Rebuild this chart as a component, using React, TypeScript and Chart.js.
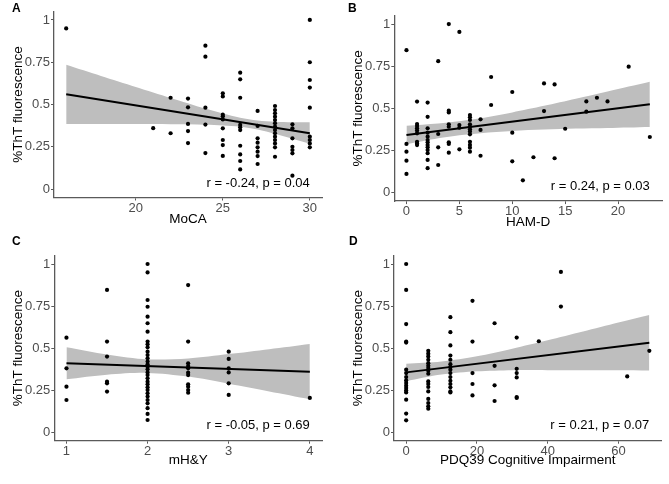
import React, { useEffect, useRef } from 'react';
import { Chart, registerables } from 'chart.js';

Chart.register(...registerables);

// ---------- shared axis ----------
const yTickValues = [0, 0.25, 0.5, 0.75, 1];
const yTickLabels = ['0', '0.25', '0.5', '0.75', '1'];
const yTitle = '%ThT fluorescence';

// ---------- Panel A: MoCA ----------
const mocaX = [
  16,
  21,
  22, 22,
  23, 23, 23, 23, 23,
  24, 24, 24, 24, 24,
  25, 25, 25, 25, 25, 25, 25, 25, 25,
  26, 26, 26, 26, 26, 26, 26, 26, 26, 26,
  27, 27, 27, 27, 27, 27, 27, 27,
  28, 28, 28, 28, 28, 28, 28, 28, 28, 28, 28, 28, 28, 28,
  29, 29, 29, 29, 29, 29, 29,
  30, 30, 30, 30, 30, 30, 30, 30, 30,
];
const mocaY = [
  0.95,
  0.36,
  0.54, 0.33,
  0.535, 0.483, 0.385, 0.343, 0.272,
  0.848, 0.783, 0.481, 0.381, 0.213,
  0.566, 0.548, 0.44, 0.412, 0.359, 0.29, 0.26, 0.196, 0.43,
  0.688, 0.649, 0.54, 0.379, 0.365, 0.349, 0.256, 0.205, 0.166, 0.116,
  0.462, 0.373, 0.3, 0.274, 0.247, 0.221, 0.195, 0.148,
  0.491, 0.467, 0.448, 0.428, 0.408, 0.389, 0.369, 0.349, 0.33, 0.31, 0.29, 0.27, 0.247, 0.191,
  0.383, 0.359, 0.3, 0.25, 0.231, 0.211, 0.079,
  1.0, 0.75, 0.645, 0.6, 0.481, 0.31, 0.29, 0.27, 0.247,
];
const mocaTicks = [20, 25, 30];
const mocaFitX = [16, 30];
const mocaFitY = [0.56, 0.33];
const mocaBandX = [16, 18, 20, 22, 24, 25, 26, 27, 28, 29, 30];
const mocaBandLo = [0.385, 0.385, 0.384, 0.383, 0.38, 0.376, 0.369, 0.352, 0.327, 0.298, 0.268];
const mocaBandHi = [0.735, 0.669, 0.604, 0.539, 0.476, 0.447, 0.422, 0.405, 0.398, 0.395, 0.395];

// ---------- Panel B: HAM-D ----------
const hamdX = [
  0, 0, 0, 0, 0,
  1, 1, 1, 1, 1, 1, 1, 1, 1,
  2, 2, 2, 2, 2, 2, 2, 2, 2, 2, 2, 2, 2,
  3, 3, 3, 3,
  4, 4, 4, 4, 4, 4, 4, 4,
  5, 5, 5, 5,
  6, 6, 6, 6, 6, 6, 6, 6, 6, 6, 6, 6,
  7, 7, 7,
  8, 8,
  10, 10, 10,
  11, 12,
  13, 13,
  14, 14,
  15,
  17, 17,
  18, 19, 21, 23,
];
const hamdY = [
  0.845, 0.289, 0.243, 0.19, 0.111,
  0.54, 0.407, 0.395, 0.382, 0.368, 0.352, 0.302, 0.292, 0.282,
  0.534, 0.45, 0.382, 0.356, 0.332, 0.312, 0.299, 0.283, 0.269, 0.253, 0.234, 0.194, 0.145,
  0.78, 0.348, 0.269, 0.164,
  1.0, 0.486, 0.476, 0.405, 0.391, 0.299, 0.289, 0.237,
  0.953, 0.401, 0.385, 0.257,
  0.46, 0.447, 0.431, 0.405, 0.391, 0.376, 0.362, 0.346, 0.302, 0.283, 0.267, 0.243,
  0.435, 0.372, 0.219,
  0.686, 0.52,
  0.597, 0.356, 0.186,
  0.073, 0.21,
  0.648, 0.484,
  0.642, 0.204,
  0.379,
  0.541, 0.48,
  0.563, 0.541, 0.747, 0.33,
];
const hamdTicks = [0, 5, 10, 15, 20];
const hamdFitX = [0, 23];
const hamdFitY = [0.342, 0.524];
const hamdBandX = [0, 3, 5, 7, 10, 13, 16, 19, 21, 23];
const hamdBandLo = [0.287, 0.322, 0.34, 0.353, 0.366, 0.374, 0.38, 0.384, 0.387, 0.39];
const hamdBandHi = [0.397, 0.41, 0.424, 0.441, 0.476, 0.515, 0.557, 0.6, 0.629, 0.658];

// ---------- Panel C: mH&Y ----------
const hyX = [
  1, 1, 1, 1,
  1.5, 1.5, 1.5, 1.5, 1.5, 1.5,
  2, 2, 2, 2, 2, 2, 2, 2, 2, 2, 2, 2, 2, 2, 2, 2, 2, 2, 2, 2, 2, 2, 2, 2, 2, 2, 2, 2, 2, 2, 2,
  2.5, 2.5, 2.5, 2.5, 2.5, 2.5, 2.5, 2.5, 2.5, 2.5, 2.5,
  3, 3, 3, 3, 3, 3,
  4,
];
const hyY = [
  0.562, 0.38, 0.271, 0.192,
  0.846, 0.539, 0.45, 0.301, 0.291, 0.242,
  1.0, 0.95, 0.786, 0.746, 0.687, 0.648, 0.598, 0.539, 0.523, 0.505, 0.479, 0.459, 0.44, 0.42, 0.404,
  0.39, 0.374, 0.356, 0.34, 0.321, 0.301, 0.285, 0.267, 0.251, 0.232, 0.212, 0.192, 0.172, 0.143, 0.109, 0.073,
  0.875, 0.539, 0.41, 0.394, 0.38, 0.354, 0.34, 0.285, 0.271, 0.251, 0.235,
  0.479, 0.436, 0.38, 0.356, 0.291, 0.222,
  0.204,
];
const hyTicks = [1, 2, 3, 4];
const hyFitX = [1, 4];
const hyFitY = [0.41, 0.36];
const hyBandX = [1, 1.5, 2, 2.5, 3, 3.5, 4];
const hyBandLo = [0.315, 0.342, 0.353, 0.331, 0.289, 0.243, 0.197];
const hyBandHi = [0.505, 0.462, 0.433, 0.439, 0.465, 0.494, 0.525];

// ---------- Panel D: PDQ39 Cognitive Impairment ----------
const pdqX = [
  0, 0, 0, 0, 0, 0, 0, 0, 0, 0, 0, 0, 0, 0, 0, 0, 0,
  6.25, 6.25, 6.25, 6.25, 6.25, 6.25, 6.25, 6.25, 6.25, 6.25, 6.25, 6.25, 6.25, 6.25, 6.25, 6.25, 6.25,
  12.5, 12.5, 12.5, 12.5, 12.5, 12.5, 12.5, 12.5, 12.5, 12.5, 12.5, 12.5, 12.5, 12.5, 12.5,
  18.75, 18.75, 18.75, 18.75, 18.75,
  25, 25, 25, 25,
  31.25, 31.25, 31.25, 31.25, 31.25, 31.25,
  37.5,
  43.75, 43.75,
  62.5, 68.75,
];
const pdqY = [
  1.0, 0.846, 0.643, 0.539, 0.533, 0.372, 0.352, 0.328, 0.308, 0.293, 0.277, 0.263, 0.249, 0.237, 0.194, 0.111, 0.071,
  0.484, 0.467, 0.451, 0.431, 0.411, 0.395, 0.382, 0.366, 0.348, 0.302, 0.287, 0.269, 0.243, 0.198, 0.174, 0.154, 0.14,
  0.684, 0.595, 0.516, 0.456, 0.431, 0.405, 0.388, 0.372, 0.352, 0.328, 0.306, 0.287, 0.267, 0.243, 0.237,
  0.781, 0.539, 0.352, 0.287, 0.219,
  0.648, 0.395, 0.279, 0.186,
  0.563, 0.377, 0.352, 0.326, 0.209, 0.204,
  0.541,
  0.953, 0.747,
  0.332, 0.484,
];
const pdqTicks = [0, 20, 40, 60];
const pdqFitX = [0, 68.75];
const pdqFitY = [0.356, 0.532];
const pdqBandX = [0, 10, 20, 30, 40, 50, 60, 68.75];
const pdqBandLo = [0.304, 0.343, 0.362, 0.369, 0.369, 0.369, 0.368, 0.367];
const pdqBandHi = [0.408, 0.421, 0.452, 0.497, 0.547, 0.599, 0.652, 0.697];

// ---------- layout / styles ----------
const FONT = "'Liberation Sans', Arial, sans-serif";
const BAND = '#bebebe';
const AXIS = '#5a5a5a';
const TICKTXT = '#4d4d4d';

type PanelCfg = {
  tag: string;
  xTitle: string;
  xs: number[];
  ys: number[];
  xTicks: number[];
  xMin: number;
  xMax: number;
  fitX: number[];
  fitY: number[];
  bandX: number[];
  bandLo: number[];
  bandHi: number[];
  stat: string;
  statX: number;
  statY: number;
  box: { left: number; top: number; width: number; height: number };
  lay: { padTop: number; padRight: number; axisW: number; axisH: number; xTitlePad: number; yTitlePad: number };
  tagPos: { left: number; top: number };
};

const panels: PanelCfg[] = [
  {
    tag: 'A', xTitle: 'MoCA', xs: mocaX, ys: mocaY, xTicks: mocaTicks, xMin: 15.3, xMax: 30.7,
    fitX: mocaFitX, fitY: mocaFitY, bandX: mocaBandX, bandLo: mocaBandLo, bandHi: mocaBandHi,
    stat: 'r = -0.24, p = 0.04', statX: 30, statY: 0.036,
    box: { left: 0, top: 0, width: 334, height: 242 },
    lay: { padTop: 11.5, padRight: 12, axisW: 54, axisH: 44.5, xTitlePad: 14.8, yTitlePad: 10 },
    tagPos: { left: 12, top: 1 },
  },
  {
    tag: 'B', xTitle: 'HAM-D', xs: hamdX, ys: hamdY, xTicks: hamdTicks, xMin: -1.15, xMax: 24.15,
    fitX: hamdFitX, fitY: hamdFitY, bandX: hamdBandX, bandLo: hamdBandLo, bandHi: hamdBandHi,
    stat: 'r = 0.24, p = 0.03', statX: 23, statY: 0.04,
    box: { left: 340, top: 0, width: 329, height: 242 },
    lay: { padTop: 15.6, padRight: 7, axisW: 54.3, axisH: 40.9, xTitlePad: 12, yTitlePad: 10.3 },
    tagPos: { left: 348, top: 1 },
  },
  {
    tag: 'C', xTitle: 'mH&Y', xs: hyX, ys: hyY, xTicks: hyTicks, xMin: 0.85, xMax: 4.15,
    fitX: hyFitX, fitY: hyFitY, bandX: hyBandX, bandLo: hyBandLo, bandHi: hyBandHi,
    stat: 'r = -0.05, p = 0.69', statX: 4, statY: 0.043,
    box: { left: 0, top: 242, width: 334, height: 242 },
    lay: { padTop: 13.6, padRight: 12, axisW: 54.3, axisH: 43.3, xTitlePad: 15.8, yTitlePad: 10.3 },
    tagPos: { left: 12, top: 234 },
  },
  {
    tag: 'D', xTitle: 'PDQ39 Cognitive Impairment', xs: pdqX, ys: pdqY, xTicks: pdqTicks, xMin: -3.44, xMax: 72.19,
    fitX: pdqFitX, fitY: pdqFitY, bandX: pdqBandX, bandLo: pdqBandLo, bandHi: pdqBandHi,
    stat: 'r = 0.21, p = 0.07', statX: 68.75, statY: 0.04,
    box: { left: 340, top: 242, width: 329, height: 242 },
    lay: { padTop: 13.6, padRight: 7.5, axisW: 54, axisH: 43.3, xTitlePad: 15.8, yTitlePad: 10.3 },
    tagPos: { left: 349, top: 234 },
  },
];

const statPlugin = {
  id: 'statText',
  afterDatasetsDraw(chart: any, _args: any, opts: any) {
    const { ctx, scales } = chart;
    ctx.save();
    ctx.font = `13px ${FONT}`;
    ctx.fillStyle = '#000';
    ctx.textAlign = 'right';
    ctx.textBaseline = 'middle';
    ctx.fillText(opts.text, scales.x.getPixelForValue(opts.x), scales.y.getPixelForValue(opts.y));
    ctx.restore();
  },
};

function Panel({ cfg }: { cfg: PanelCfg }) {
  const ref = useRef<HTMLCanvasElement>(null);
  useEffect(() => {
    const L = cfg.lay;
    const chart = new Chart(ref.current as HTMLCanvasElement, {
      type: 'scatter',
      data: {
        datasets: [
          {
            type: 'line',
            data: cfg.bandX.map((x, i) => ({ x, y: cfg.bandHi[i] })),
            fill: '+1',
            backgroundColor: BAND,
            borderColor: 'transparent',
            borderWidth: 0,
            pointRadius: 0,
            tension: 0.3,
            order: 3,
          } as any,
          {
            type: 'line',
            data: cfg.bandX.map((x, i) => ({ x, y: cfg.bandLo[i] })),
            fill: false,
            borderColor: 'transparent',
            borderWidth: 0,
            pointRadius: 0,
            tension: 0.3,
            order: 4,
          } as any,
          {
            type: 'line',
            data: cfg.fitX.map((x, i) => ({ x, y: cfg.fitY[i] })),
            fill: false,
            borderColor: '#000',
            borderWidth: 2,
            pointRadius: 0,
            order: 2,
          } as any,
          {
            type: 'scatter',
            data: cfg.xs.map((x, i) => ({ x, y: cfg.ys[i] })),
            backgroundColor: '#000',
            borderColor: '#000',
            borderWidth: 0,
            pointRadius: 2.1,
            order: 1,
          } as any,
        ],
      },
      options: {
        animation: false,
        responsive: false,
        maintainAspectRatio: false,
        events: [],
        layout: { padding: { top: L.padTop, right: L.padRight, left: 0, bottom: 0 } },
        plugins: {
          legend: { display: false },
          tooltip: { enabled: false },
          statText: { text: cfg.stat, x: cfg.statX, y: cfg.statY },
        } as any,
        scales: {
          x: {
            type: 'linear',
            min: cfg.xMin,
            max: cfg.xMax,
            afterBuildTicks: (s: any) => {
              s.ticks = cfg.xTicks.map((v) => ({ value: v }));
            },
            afterFit: (s: any) => {
              s.height = L.axisH;
            },
            ticks: {
              autoSkip: false,
              maxRotation: 0,
              padding: 0,
              color: TICKTXT,
              font: { family: FONT, size: 13 },
              callback: (v: any) => String(v),
            },
            grid: { display: true, drawOnChartArea: false, drawTicks: true, tickLength: 3, color: AXIS, lineWidth: 1 },
            border: { display: true, color: AXIS, width: 1.3 },
            title: {
              display: true,
              text: cfg.xTitle,
              color: '#000',
              font: { family: FONT, size: 13.5 },
              padding: { top: 0, bottom: L.xTitlePad },
            },
          },
          y: {
            type: 'linear',
            min: -0.05,
            max: 1.05,
            afterBuildTicks: (s: any) => {
              s.ticks = yTickValues.map((v) => ({ value: v }));
            },
            afterFit: (s: any) => {
              s.width = L.axisW;
            },
            ticks: {
              autoSkip: false,
              padding: 1,
              color: TICKTXT,
              font: { family: FONT, size: 13 },
              callback: (v: any) => {
                const i = yTickValues.indexOf(Number(v));
                return i >= 0 ? yTickLabels[i] : '';
              },
            },
            grid: { display: true, drawOnChartArea: false, drawTicks: true, tickLength: 3, color: AXIS, lineWidth: 1 },
            border: { display: true, color: AXIS, width: 1.3 },
            title: {
              display: true,
              text: yTitle,
              color: '#000',
              font: { family: FONT, size: 13.5 },
              padding: { top: L.yTitlePad, bottom: 0 },
            },
          },
        },
      } as any,
      plugins: [statPlugin as any],
    });
    return () => chart.destroy();
  }, [cfg]);

  return (
    <canvas
      ref={ref}
      width={cfg.box.width}
      height={cfg.box.height}
      style={{
        position: 'absolute',
        left: cfg.box.left,
        top: cfg.box.top,
        width: cfg.box.width,
        height: cfg.box.height,
      }}
    />
  );
}

export default function App() {
  return (
    <div
      style={{
        position: 'fixed',
        left: 0,
        top: 0,
        width: 669,
        height: 484,
        background: '#fff',
        overflow: 'hidden',
      }}
    >
      {panels.map((p) => (
        <Panel key={p.tag} cfg={p} />
      ))}
      {panels.map((p) => (
        <div
          key={'t' + p.tag}
          style={{
            position: 'absolute',
            left: p.tagPos.left,
            top: p.tagPos.top,
            font: `bold 12px ${FONT}`,
            color: '#000',
            lineHeight: '14px',
          }}
        >
          {p.tag}
        </div>
      ))}
    </div>
  );
}
